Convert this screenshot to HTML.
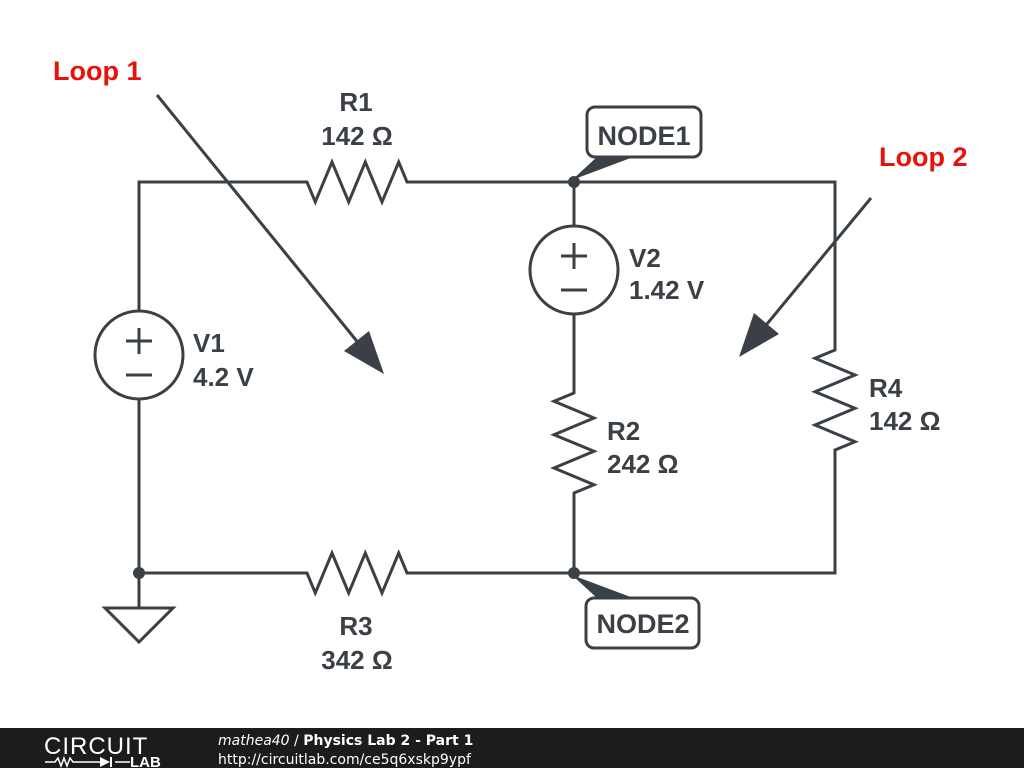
<!DOCTYPE html>
<html><head><meta charset="utf-8"><style>
html,body{margin:0;padding:0;background:#fff;width:1024px;height:768px;overflow:hidden}
svg{display:block}
text{font-family:"Liberation Sans",Arial,sans-serif;font-weight:bold}
</style></head><body>
<svg width="1024" height="768" viewBox="0 0 1024 768">
<g stroke="#3a4045" stroke-width="3" fill="none" stroke-linejoin="miter">
<polyline points="139,311 139,182 307,182 315.3,202 332,162 348.7,202 365.3,162 382,202 398.7,162 407,182 835,182 835,350 815,358.3 855,375 815,391.7 855,408.3 815,425 855,441.7 835,450 835,573 407,573 398.7,553 382,593 365.3,553 348.7,593 332,553 315.3,593 307,573 139,573 139,399"/>
<line x1="139" y1="573" x2="139" y2="608"/>
<polygon points="105,608 173,608 139,642"/>
<line x1="574" y1="182" x2="574" y2="225"/>
<polyline points="574,315 574,393 554,401.3 594,418 554,434.7 594,451.3 554,468 594,484.7 574,493 574,573"/>
<circle cx="139" cy="355" r="44"/>
<circle cx="574" cy="270" r="44"/>
<line x1="126" y1="341" x2="152" y2="341"/><line x1="139" y1="328" x2="139" y2="354"/>
<line x1="126" y1="375" x2="152" y2="375"/>
<line x1="561" y1="256" x2="587" y2="256"/><line x1="574" y1="243" x2="574" y2="269"/>
<line x1="561" y1="290" x2="587" y2="290"/>
<rect x="587" y="107" width="114" height="50" rx="8" fill="#fff"/>
<rect x="586" y="598" width="113" height="50" rx="8" fill="#fff"/>
<line x1="157" y1="95" x2="360" y2="345"/>
<line x1="871" y1="198" x2="762" y2="330"/>
</g>
<g fill="#3a4045">
<circle cx="574" cy="182" r="6"/><circle cx="574" cy="573" r="6"/><circle cx="139" cy="573" r="6"/>
<polygon points="572,180 598,156 636,156"/>
<polygon points="572,575 598,599 636,599"/>
<polygon points="384,374 344,351 369,331"/>
<polygon points="739,357 754,313 779,334"/>
</g>
<g fill="#3a4045" font-size="26">
<text x="356" y="111" text-anchor="middle">R1</text>
<text x="357" y="145" text-anchor="middle">142 Ω</text>
<text x="356" y="635" text-anchor="middle">R3</text>
<text x="357" y="669" text-anchor="middle">342 Ω</text>
<text x="193" y="352">V1</text><text x="193" y="386">4.2 V</text>
<text x="629" y="267">V2</text><text x="629" y="299">1.42 V</text>
<text x="607" y="440">R2</text><text x="607" y="473">242 Ω</text>
<text x="869" y="397">R4</text><text x="869" y="430">142 Ω</text>
</g>
<g fill="#3a4045" font-size="27">
<text x="644" y="145" text-anchor="middle">NODE1</text>
<text x="643" y="633" text-anchor="middle">NODE2</text>
</g>
<g fill="#e8120c" font-size="27">
<text x="53" y="80">Loop 1</text>
<text x="879" y="166">Loop 2</text>
</g>
<rect x="0" y="728" width="1024" height="40" fill="#1c1c1c"/>
<text x="44" y="754" fill="#fff" font-size="24" style="font-weight:normal;letter-spacing:1px">CIRCUIT</text>
<g stroke="#fff" stroke-width="1.5" fill="none"><polyline points="45,762 55,762 58,758 61,766 64,758 67,766 70,758 73,762 100,762"/><line x1="115" y1="762" x2="130" y2="762"/></g>
<polygon points="100,757 100,767 110,762" fill="#fff"/><line x1="111" y1="757" x2="111" y2="767" stroke="#fff" stroke-width="2"/>
<text x="130" y="767" fill="#fff" font-size="15">LAB</text>
<text x="218" y="745" fill="#fff" font-size="14" style="font-family:'DejaVu Sans',sans-serif;font-weight:normal"><tspan font-style="italic">mathea40</tspan> / <tspan font-weight="bold">Physics Lab 2 - Part 1</tspan></text>
<text x="218" y="764" fill="#fff" font-size="14" style="font-family:'DejaVu Sans',sans-serif;font-weight:normal">http://circuitlab.com/ce5q6xskp9ypf</text>
</svg>
</body></html>
